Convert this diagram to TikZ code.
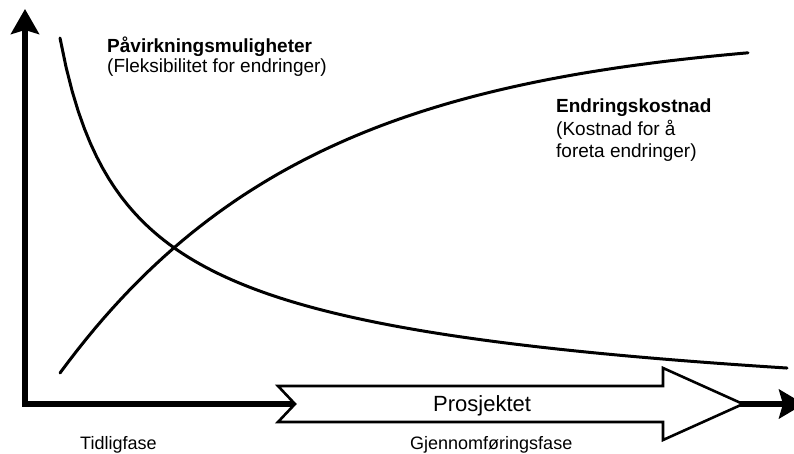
\documentclass[tikz,border=0pt]{standalone}
\usepackage{fontspec}
\setmainfont{Liberation Sans}
\usetikzlibrary{arrows.meta}
\begin{document}
\begin{tikzpicture}[x=1pt,y=-1pt,
  axisline/.style={line width=6.5pt,line join=miter},
  curveline/.style={line width=3pt,line cap=round},
  bigarrow/.style={draw=black,fill=white,line width=2.6pt,line join=miter},
  lbl/.style={inner sep=0pt,align=left,font=\fontsize{19}{23}\selectfont},
  phase/.style={inner sep=0pt,font=\fontsize{18}{21}\selectfont}]
\useasboundingbox (0,0) rectangle (794,454);
\begin{scope}
\clip (0,0) rectangle (794,454);
% curves
\draw[curveline] plot[domain=60:787,samples=120] (\x,{465.7-2705/sqrt(\x-20)});
\draw[curveline] plot[domain=60:748,samples=80] (\x,{373-342*(1-exp(-(\x-60)/250))});
% axes
\coordinate (O) at (25,404);
\coordinate (ytip) at (25,9);
\coordinate (xtip) at (804,404);
\draw[axisline,{Stealth[length=25pt,width=28pt,inset=4pt]}-{Stealth[length=25pt,width=29pt,inset=4pt]}] (ytip) -- (O) -- (xtip);
% big arrow
\draw[bigarrow] (278,386) -- (663,386) -- (663,368) -- (743,404) -- (663,440) -- (663,422) -- (278,422) -- (295,404) -- cycle;
\end{scope}
\node[inner sep=0pt,anchor=base west,font=\fontsize{22}{26}\selectfont] (proj) at (433,411) {Prosjektet};
% labels
\node[lbl,anchor=base west] (pav) at (107,52.5) {\textbf{Påvirkningsmuligheter}};
\node[lbl,anchor=base west] (pav2) at (107,72.5) {(Fleksibilitet for endringer)};
\node[lbl,anchor=base west] (endr) at (556,112.5) {\textbf{Endringskostnad}};
\node[lbl,anchor=base west] (endr2) at (556,135.5) {(Kostnad for å};
\node[lbl,anchor=base west] (endr3) at (556,158) {foreta endringer)};
\node[phase,anchor=base west] (tidlig) at (80,449) {Tidligfase};
\node[phase,anchor=base west] (gjen) at (410,449) {Gjennomføringsfase};
\end{tikzpicture}
\end{document}
